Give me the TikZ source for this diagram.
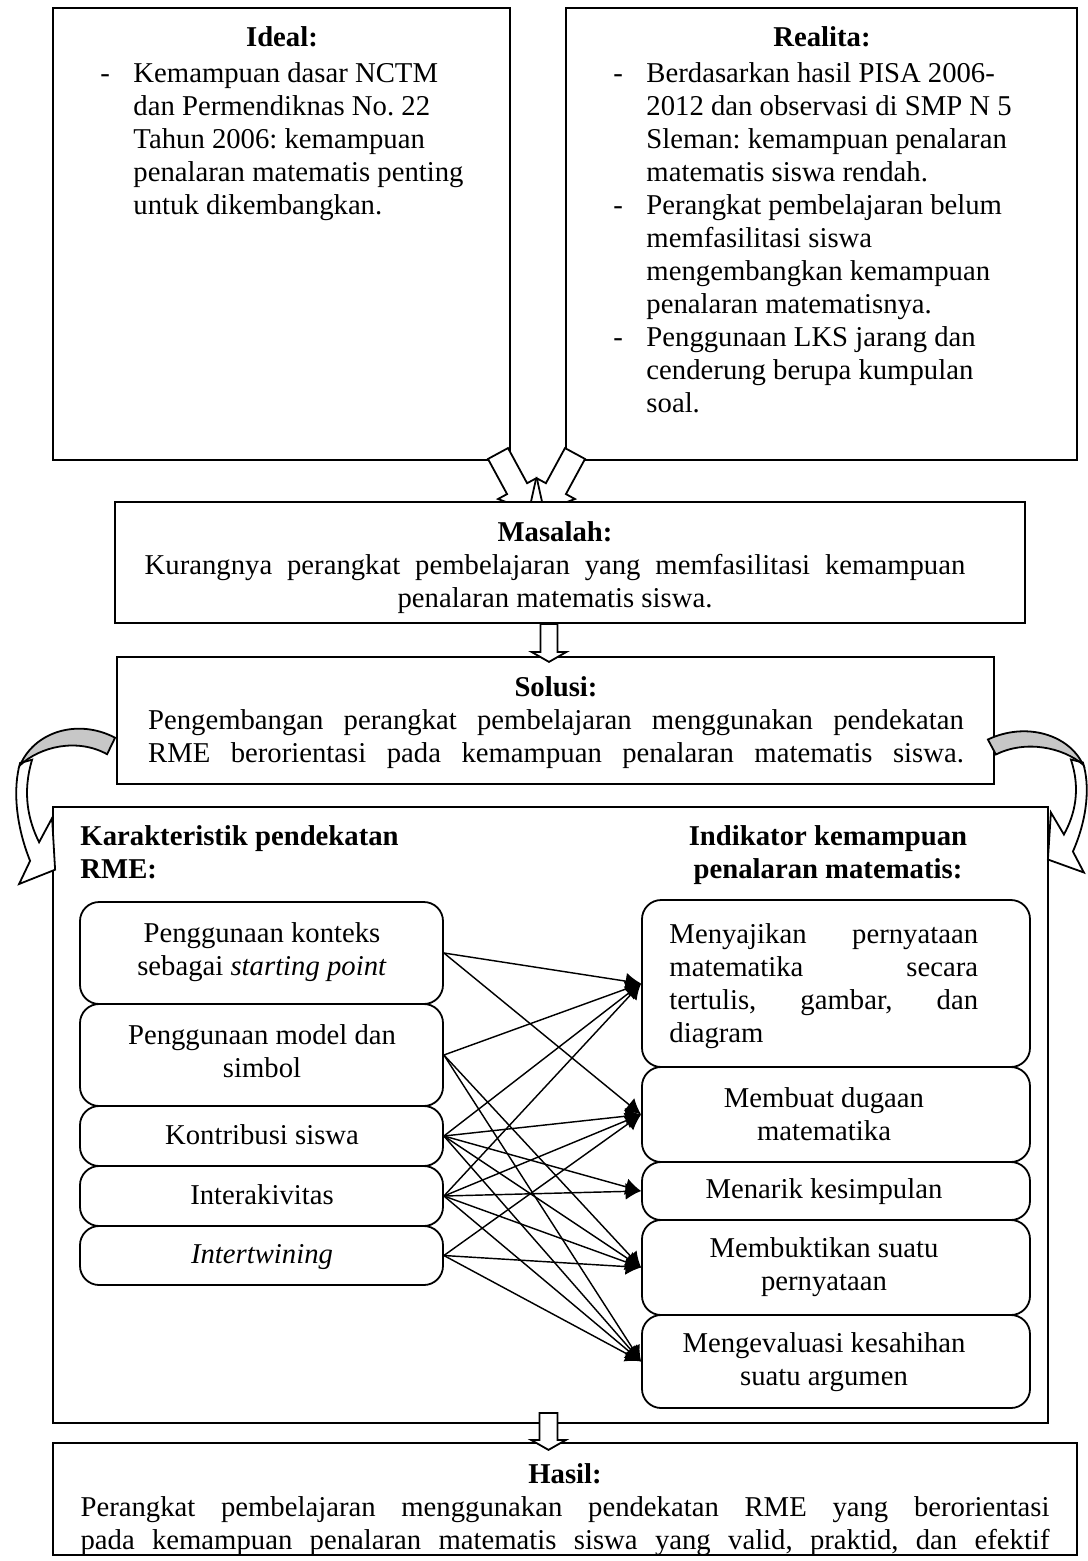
\documentclass[tikz,border=0pt]{standalone}
\usepackage{fontspec}
\setmainfont{Liberation Serif}
\usetikzlibrary{arrows.meta,fit,calc}
\frenchspacing

\newcommand{\baris}[2][c]{\begin{tabular}[t]{@{}#1@{}}#2\end{tabular}}
\newcommand{\daftar}[1]{\begin{tabular}[t]{@{}p{13.8pt}@{}l@{}}#1\end{tabular}}
\newcommand{\rata}[2]{\makebox[#1][s]{#2}}
% curved block arrow, local coordinates
\newcommand{\lengkung}{%
  \draw[blok] (88,15) .. controls (95,37) and (93,70) .. (78,104) -- (89,125) -- (53,112)
    -- (56,65) -- (69,87) .. controls (80,67) and (86,42) .. (76,12) -- cycle;
  \draw[abu] (-7,-8) .. controls (31,-26) and (74,-13) .. (88,17)
    .. controls (68,0) and (31,-8) .. (1,7) -- cycle;}

\begin{document}
\begin{tikzpicture}[x=0.418pt, y=-0.418pt, font=\fontsize{12}{13.8}\selectfont,
    kotak/.style={draw, line width=0.75pt, fill=white, inner sep=0pt},
    bulat/.style={kotak, rounded corners=8pt},
    teks/.style={inner sep=0pt, anchor=base},
    panah/.style={line width=0.6pt, -{Latex[length=6.5pt,width=7pt]}},
    blok/.style={draw, line width=0.75pt, fill=white},
    abu/.style={blok, fill=black!22}]

    \useasboundingbox (0,0) rectangle (1087,1561);

    % Ideal and realita
    \node[kotak, fit={(53,8) (510,460)}] (ideal) {};
    \node[kotak, fit={(566,8) (1077,460)}] (realita) {};
    \node[teks] (tideal) at (282,46) {\textbf{Ideal:}};
    \node[teks, anchor=base west] (lideal) at (100,82) {\daftar{
        - & Kemampuan dasar NCTM\\
          & dan Permendiknas No. 22\\
          & Tahun 2006: kemampuan\\
          & penalaran matematis penting\\
          & untuk dikembangkan.}};
    \node[teks] (trealita) at (822,46) {\textbf{Realita:}};
    \node[teks, anchor=base west] (lrealita) at (613,82) {\daftar{
        - & Berdasarkan hasil PISA 2006-\\
          & 2012 dan observasi di SMP N 5\\
          & Sleman: kemampuan penalaran\\
          & matematis siswa rendah.\\
        - & Perangkat pembelajaran belum\\
          & memfasilitasi siswa\\
          & mengembangkan kemampuan\\
          & penalaran matematisnya.\\
        - & Penggunaan LKS jarang dan\\
          & cenderung berupa kumpulan\\
          & soal.}};

    % Block arrows into masalah
    \foreach \p/\r in {{(498,453.5)}/-61.5, {(575,453.5)}/-118.5}
        \draw[blok, shift={\p}, rotate=\r] (0,-11.4) -- (40,-11.4) -- (40,-21.7) -- (65,0)
            -- (40,21.7) -- (40,11.4) -- (0,11.4) -- cycle;

    % Masalah
    \node[kotak, fit={(115,502) (1025,623)}] (masalah) {};
    \node[teks] (tmasalah) at (555,541) {\baris{\textbf{Masalah:}\\
        \rata{343pt}{Kurangnya perangkat pembelajaran yang memfasilitasi kemampuan}\\
        penalaran matematis siswa.}};

    % Solusi
    \node[kotak, fit={(117,657) (994,784)}] (solusi) {};
    \node[teks] (tsolusi) at (556,696) {\baris{\textbf{Solusi:}\\
        \rata{341pt}{Pengembangan perangkat pembelajaran menggunakan pendekatan}\\
        \rata{341pt}{RME berorientasi pada kemampuan penalaran matematis siswa.}}};
    \draw[blok, shift={($(masalah.south)+(-21,0)$)}] (-8.5,0) -- (-8.5,28) -- (-17.5,28) -- (0,38)
        -- (17.5,28) -- (8.5,28) -- (8.5,0) -- cycle;

    % Main box
    \node[kotak, fit={(53,807) (1048,1423)}] (utama) {};
    \node[teks, anchor=base west] (tkar) at (80,845) {\textbf{\baris[l]{Karakteristik pendekatan\\ RME:}}};
    \node[teks] (tind) at (828,845) {\textbf{\baris{Indikator kemampuan\\ penalaran matematis:}}};

    % Karakteristik RME
    \node[bulat, fit={(80,902) (443,1004)}] (k1) {};
    \node[bulat, fit={(80,1004) (443,1106)}] (k2) {};
    \node[bulat, fit={(80,1106) (443,1166)}] (k3) {};
    \node[bulat, fit={(80,1166) (443,1226)}] (k4) {};
    \node[bulat, fit={(80,1226) (443,1285)}] (k5) {};
    \node[teks] (tk1) at (262,942) {\baris{Penggunaan konteks\\ sebagai \textit{starting point}}};
    \node[teks] (tk2) at (262,1044) {\baris{Penggunaan model dan\\ simbol}};
    \node[teks] (tk3) at (262,1144) {Kontribusi siswa};
    \node[teks] (tk4) at (262,1204) {Interakivitas};
    \node[teks] (tk5) at (262,1263) {\textit{Intertwining}};

    % Indikator penalaran
    \node[bulat, fit={(642,900) (1030,1067)}] (i1) {};
    \node[bulat, fit={(642,1067) (1030,1162)}] (i2) {};
    \node[bulat, fit={(642,1162) (1030,1220)}] (i3) {};
    \node[bulat, fit={(642,1220) (1030,1315)}] (i4) {};
    \node[bulat, fit={(642,1315) (1030,1408)}] (i5) {};
    \node[teks, anchor=base west] (ti1) at (669,943) {\parbox[t]{129pt}{Menyajikan\hfill pernyataan\\
        matematika\hfill secara\\ tertulis,\hfill gambar,\hfill dan\\ diagram}};
    \node[teks] (ti2) at (824,1107) {\baris{Membuat dugaan\\ matematika}};
    \node[teks] (ti3) at (824,1198) {Menarik kesimpulan};
    \node[teks] (ti4) at (824,1257) {\baris{Membuktikan suatu\\ pernyataan}};
    \node[teks] (ti5) at (824,1352) {\baris{Mengevaluasi kesahihan\\ suatu argumen}};

    % Links
    \foreach \a/\b in {k1/i1, k1/i2, k2/i1, k2/i4, k2/i5, k3/i1, k3/i2, k3/i3, k3/i4, k3/i5,
                       k4/i1, k4/i2, k4/i3, k4/i4, k4/i5, k5/i2, k5/i4, k5/i5}
        \draw[panah] (\a.east) -- (\b.west);

    % Hasil
    \node[kotak, fit={(53,1443) (1077,1555)}] (hasil) {};
    \node[teks] (thasil) at (565,1483) {\baris{\textbf{Hasil:}\\
        \rata{405pt}{Perangkat pembelajaran menggunakan pendekatan RME yang berorientasi}\\
        \rata{405pt}{pada kemampuan penalaran matematis siswa yang valid, praktid, dan efektif}}};
    \draw[blok, shift={($(utama.south)+(-2,-11)$)}] (-9,0) -- (-9,27) -- (-17.5,27) -- (0,37)
        -- (17.5,27) -- (9,27) -- (9,0) -- cycle;

    % Curved arrows
    \begin{scope}[shift={($(solusi.east)+(0,27)$)}]
        \lengkung
    \end{scope}
    \begin{scope}[shift={($(solusi.west)+(-8,26)$)}, xscale=-1, yscale=1.1]
        \lengkung
    \end{scope}
\end{tikzpicture}
\end{document}
